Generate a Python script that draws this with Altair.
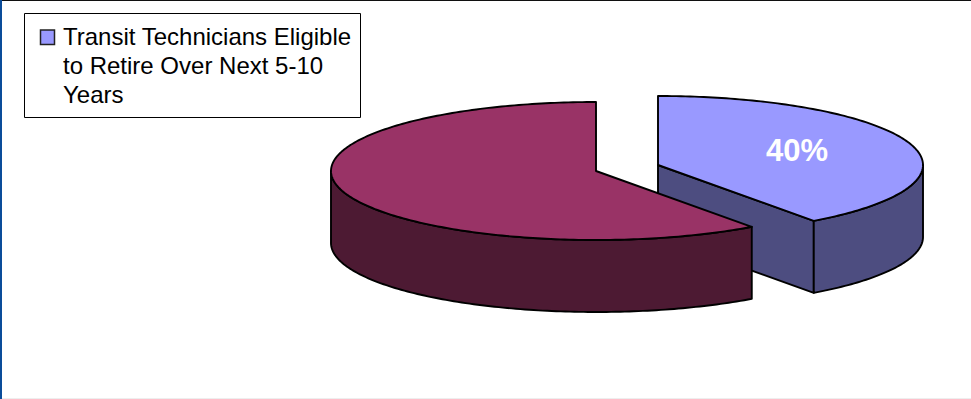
import math
import altair as alt
import pandas as pd

# Slice shares, in percent, clockwise from twelve o'clock
shares = [40, 60]
slice_names = ["Eligible", "Other"]
legend_lines = ["Transit Technicians Eligible", "to Retire Over Next 5-10", "Years"]

# Pie drawn as an oblique disc: centre, radii and wall depth per slice
centres = {"Eligible": (658, 165), "Other": (596, 171)}
RX, RY, DEPTH = 265, 69, 72
face_colours = {"Eligible": "#9999FF", "Other": "#993366"}
wall_colours = {"Eligible": "#4D4D80", "Other": "#4D1A33"}


def rim(name, t):
    cx, cy = centres[name]
    rad = math.radians(t)
    return (cx + RX * math.sin(rad), cy - RY * math.cos(rad))


def arc(name, t0, t1, drop=0):
    n = max(2, int(abs(t1 - t0)) + 1)
    pts = []
    for i in range(n + 1):
        x, y = rim(name, t0 + (t1 - t0) * i / n)
        pts.append([x, y + drop])
    return pts


def feature(points, fill):
    ring = points + [points[0]]
    return {"type": "Feature", "properties": {"fill": fill},
            "geometry": {"type": "Polygon", "coordinates": [ring]}}


def outer_wall(name, t0, t1):
    return feature(arc(name, t0, t1) + arc(name, t1, t0, DEPTH), wall_colours[name])


def inner_wall(name, t):
    cx, cy = centres[name]
    x, y = rim(name, t)
    pts = [[cx, cy], [x, y], [x, y + DEPTH], [cx, cy + DEPTH]]
    return feature(pts, wall_colours[name])


def top_face(name, t0, t1):
    cx, cy = centres[name]
    return feature([[cx, cy]] + arc(name, t0, t1), face_colours[name])


cut = 360 * shares[0] / sum(shares)
a, b = slice_names

# Painter's order: far slice first, nearer slice on top
features = [
    inner_wall(a, cut),
    outer_wall(a, 90, cut),
    top_face(a, 0, cut),
    outer_wall(b, cut, 270),
    top_face(b, cut, 360),
]

pie = (
    alt.Chart(alt.Data(values=features))
    .mark_geoshape(stroke="black", strokeWidth=1.9, strokeJoin="round")
    .encode(fill=alt.Fill("properties.fill:N", scale=None))
    .project(type="identity", scale=1, translate=[0, 0])
)

share_label = (
    alt.Chart(pd.DataFrame({"label": [f"{shares[0]}%"]}))
    .mark_text(font="Liberation Sans", fontWeight="bold", fontSize=31, color="white",
               align="center", baseline="alphabetic")
    .encode(x=alt.value(797), y=alt.value(161), text="label:N")
)

legend_box = (
    alt.Chart(pd.DataFrame({"k": [0]}))
    .mark_rect(fill="white", stroke="black", strokeWidth=1)
    .encode(x=alt.value(24.5), x2=alt.value(360.5), y=alt.value(13.5), y2=alt.value(117.5))
)

legend_swatch = (
    alt.Chart(pd.DataFrame({"k": [0]}))
    .mark_rect(fill=face_colours[a], stroke="#222222", strokeWidth=1.5)
    .encode(x=alt.value(40.5), x2=alt.value(54.5), y=alt.value(30), y2=alt.value(44.5))
)

legend_text = (
    alt.Chart(pd.DataFrame({"line": legend_lines, "row": [0, 1, 2]}))
    .mark_text(font="Liberation Sans", fontSize=24, color="black",
               align="left", baseline="alphabetic")
    .encode(
        x=alt.value(63),
        y=alt.Y("row:Q", scale=alt.Scale(domain=[0, 2], range=[45, 103]), axis=None),
        text="line:N",
    )
)

# Slide frame: dark top edge, blue left edge, faint bottom edge
frame_top = alt.Chart(pd.DataFrame({"k": [0]})).mark_rule(color="#101010", strokeWidth=1).encode(
    x=alt.value(0), x2=alt.value(971), y=alt.value(0.5))
frame_left = alt.Chart(pd.DataFrame({"k": [0]})).mark_rule(color="#0A4C9A", strokeWidth=2).encode(
    x=alt.value(1), y=alt.value(0), y2=alt.value(399))
frame_bottom = alt.Chart(pd.DataFrame({"k": [0]})).mark_rule(color="#EEEEEE", strokeWidth=1).encode(
    x=alt.value(2), x2=alt.value(971), y=alt.value(398.5))

chart = (
    alt.layer(pie, share_label, legend_box, legend_swatch, legend_text,
              frame_top, frame_left, frame_bottom)
    .properties(width=971, height=399, padding=0, background="white",
                autosize=alt.AutoSizeParams(type="none"))
    .configure_view(stroke=None)
)

chart.save("out.html", embed_options={"renderer": "svg", "actions": False})
